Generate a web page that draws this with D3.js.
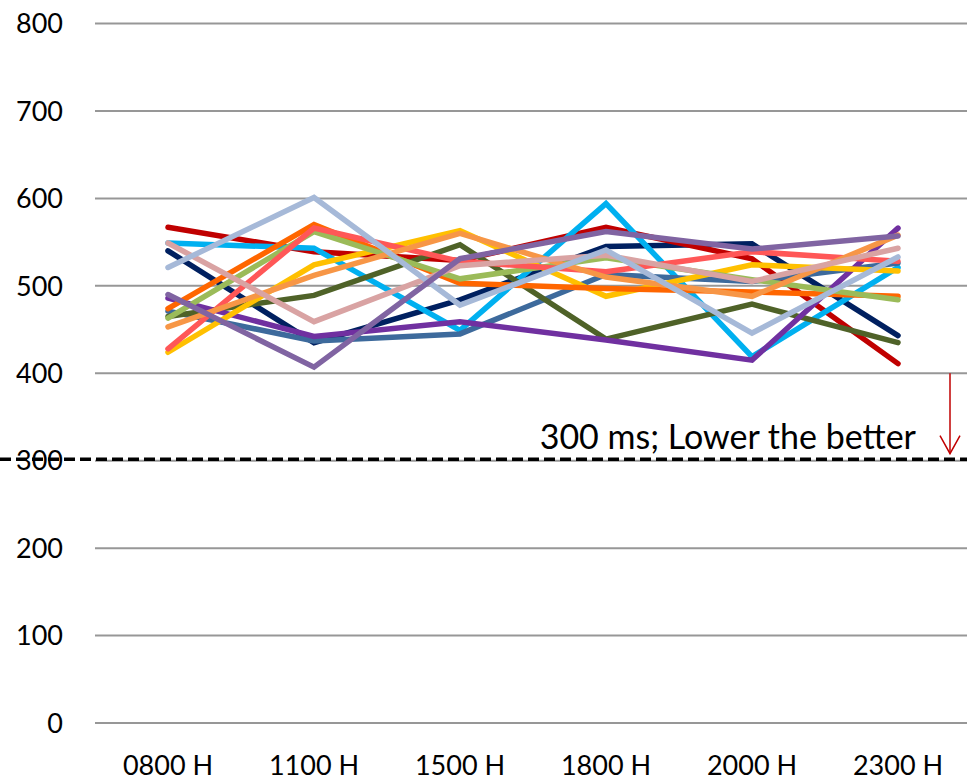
<!DOCTYPE html>
<html>
<head>
    <meta charset="UTF-8" />
    <script src="https://cdnjs.cloudflare.com/ajax/libs/d3/7.8.5/d3.min.js"></script>
    <style>
        body { margin: 0; background: #fff; }
        svg { display: block; font-family: Lato, "Open Sans", sans-serif; }
    </style>
</head>
<body>
    <svg></svg>
    <script>
        let width = 967,
            height = 782;

        // categories on the x axis
        let categories = ["0800 H", "1100 H", "1500 H", "1800 H", "2000 H", "2300 H"];
        let yTicks = [0, 100, 200, 300, 400, 500, 600, 700, 800];
        let threshold = 300;
        let thresholdLabel = "300 ms; Lower the better";

        // one array per line (response time, ms)
        let navy = [540, 435, 484, 545, 548, 443];
        let darkRed = [567, 539, 529, 567, 531, 411];
        let skyBlue = [549, 543, 449, 594, 419, 521];
        let steelBlue = [471, 437, 445, 513, 505, 526];
        let olive = [465, 489, 547, 439, 479, 435];
        let purple = [486, 442, 459, 438, 415, 566];
        let yellow = [424, 524, 563, 488, 524, 517];
        let orange = [474, 570, 503, 497, 493, 488];
        let lightGreen = [463, 562, 508, 532, 507, 484];
        let salmon = [428, 566, 528, 516, 539, 528];
        let lightOrange = [453, 512, 560, 510, 488, 558];
        let rose = [549, 459, 523, 535, 505, 543];
        let paleBlue = [521, 601, 478, 541, 446, 533];
        let lavender = [490, 407, 531, 562, 542, 557];

        let series = [
            { values: navy, color: "#002060" },
            { values: darkRed, color: "#C00000" },
            { values: skyBlue, color: "#00B0F0" },
            { values: steelBlue, color: "#3D6A9C" },
            { values: olive, color: "#4F6228" },
            { values: purple, color: "#7030A0" },
            { values: yellow, color: "#FFC000" },
            { values: orange, color: "#FF6600" },
            { values: lightGreen, color: "#9BBB59" },
            { values: salmon, color: "#FF5757" },
            { values: lightOrange, color: "#F79646" },
            { values: rose, color: "#D9A3A3" },
            { values: paleBlue, color: "#A6B9D8" },
            { values: lavender, color: "#8064A2" }
        ];

        let svg = d3.select("svg").attr("width", width).attr("height", height);

        let x = d3.scaleBand().domain(categories).range([95, 971]).padding(0);
        let y = d3.scaleLinear().domain([0, 800]).range([723, 23.5]);

        // gridlines
        svg.append("g")
            .selectAll("line")
            .data(yTicks)
            .enter()
            .append("line")
            .attr("x1", 95)
            .attr("x2", width)
            .attr("y1", (d) => y(d))
            .attr("y2", (d) => y(d))
            .attr("stroke", "#979797")
            .attr("stroke-width", 2);

        // y labels
        svg.append("g")
            .selectAll("text")
            .data(yTicks)
            .enter()
            .append("text")
            .attr("x", 63)
            .attr("y", (d) => y(d))
            .attr("dy", "0.36em")
            .attr("text-anchor", "end")
            .style("font-size", "27px")
            .text((d) => d);

        // x labels
        svg.append("g")
            .selectAll("text")
            .data(categories)
            .enter()
            .append("text")
            .attr("x", (d) => x(d) + x.bandwidth() / 2)
            .attr("y", 775)
            .attr("text-anchor", "middle")
            .style("font-size", "27px")
            .text((d) => d);

        let line = d3.line()
            .x((d, i) => x(categories[i]) + x.bandwidth() / 2)
            .y((d) => y(d));

        svg.append("g")
            .selectAll("path")
            .data(series)
            .enter()
            .append("path")
            .attr("d", (d) => line(d.values))
            .attr("fill", "none")
            .attr("stroke", (d) => d.color)
            .attr("stroke-width", 5.5)
            .attr("stroke-linejoin", "miter")
            .attr("stroke-linecap", "round");

        // 300 ms target line
        svg.append("line")
            .attr("x1", 0)
            .attr("x2", width)
            .attr("y1", y(threshold) - 1.5)
            .attr("y2", y(threshold) - 1.5)
            .attr("stroke", "#000")
            .attr("stroke-width", 3.5)
            .attr("stroke-dasharray", "11,5");

        svg.append("text")
            .attr("x", 916)
            .attr("y", y(threshold) - 12)
            .attr("text-anchor", "end")
            .style("font-size", "34px")
            .text(thresholdLabel);

        // red arrow
        let ax = 950;
        svg.append("line")
            .attr("x1", ax)
            .attr("x2", ax)
            .attr("y1", y(400))
            .attr("y2", y(threshold) - 7)
            .attr("stroke", "#C00000")
            .attr("stroke-width", 1.5);
        svg.append("path")
            .attr("d", "M" + (ax - 10) + "," + (y(threshold) - 25) + "L" + ax + "," + (y(threshold) - 7) + "L" + (ax + 10) + "," + (y(threshold) - 25))
            .attr("fill", "none")
            .attr("stroke", "#C00000")
            .attr("stroke-width", 1.5);
    </script>
</body>
</html>
